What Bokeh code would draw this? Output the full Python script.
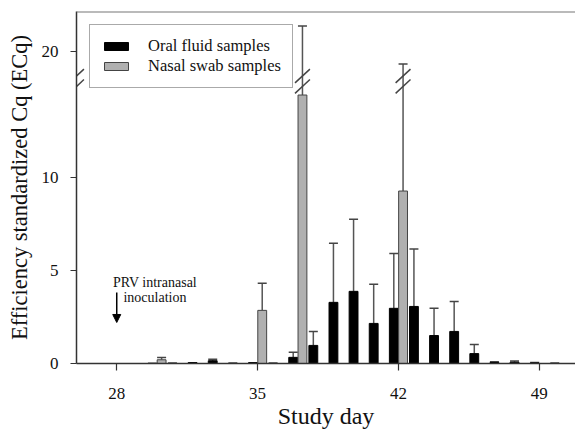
from bokeh.plotting import figure
from bokeh.models import (ColumnDataSource, Whisker, TeeHead, FixedTicker,
                          CustomJSTickFormatter, Span, Arrow, NormalHead,
                          Range1d, Legend, LegendItem)
from bokeh.core.properties import value
from bokeh.embed import file_html
from bokeh.resources import INLINE

# ---------------- data ----------------
days = list(range(28, 51))
oral = [0, 0, 0.02, 0.03, 0.05, 0.15, 0.03, 0.05, 0.03, 0.33, 0.97, 3.28, 3.87,
        2.15, 2.96, 3.06, 1.50, 1.72, 0.53, 0.05, 0.07, 0.03, 0.03]
oral_err = [0, 0, 0, 0, 0, 0.08, 0, 0, 0, 0.28, 0.75, 3.17, 3.87,
            2.10, 2.94, 3.08, 1.46, 1.61, 0.49, 0.05, 0.07, 0.03, 0]
nasal = [0, 0, 0.20, 0, 0, 0, 0, 2.85, 0, 14.4, 0, 0, 0,
         0, 9.25, 0, 0, 0, 0, 0, 0, 0, 0]
nasal_err = [0, 0, 0.12, 0, 0, 0, 0, 1.45, 0, 7.9, 0, 0, 0,
             0, 9.65, 0, 0, 0, 0, 0, 0, 0, 0]
x_ticks = [28, 35, 42, 49]
y_ticks = [0, 5, 10, 20]
series_names = ["Oral fluid samples", "Nasal swab samples"]

# ---------------- broken y axis mapping ----------------
LOWER_MAX = 15.0        # values up to here are drawn linearly
UPPER_REF = 20.0        # reference value in the upper segment
UPPER_REF_POS = 16.72   # display position of UPPER_REF
UPPER_SCALE = 0.6       # compression of the upper segment


def disp(v):
    return v if v <= LOWER_MAX else UPPER_REF_POS + (v - UPPER_REF) * UPPER_SCALE


OFF = 0.23
W = 0.44
SERIF = "Liberation Serif"
X_START, X_END = 26.0, 50.8
Y_TOP = 18.88

src = ColumnDataSource(dict(
    xo=[d - OFF for d in days], xn=[d + OFF for d in days],
    oral=[disp(v) for v in oral], nasal=[disp(v) for v in nasal]))

eo = [(d - OFF, v, disp(v + e)) for d, v, e in zip(days, oral, oral_err) if e > 0]
en = [(d + OFF, v, disp(v + e)) for d, v, e in zip(days, nasal, nasal_err) if e > 0]
err_src = ColumnDataSource(dict(
    x=[a[0] for a in eo + en], lo=[a[1] for a in eo + en], hi=[a[2] for a in eo + en]))

p = figure(width=575, height=433, x_range=Range1d(X_START, X_END), y_range=Range1d(0, Y_TOP),
           output_backend="svg", toolbar_location=None,
           min_border_left=76, min_border_right=0, min_border_top=11, min_border_bottom=70)
p.outline_line_color = None
p.grid.visible = False
p.background_fill_color = "white"

r_o = p.vbar(x="xo", top="oral", bottom=0, width=W, source=src,
             fill_color="black", line_color="black", line_width=1)
r_n = p.vbar(x="xn", top="nasal", bottom=0, width=W, source=src,
             fill_color="#b0b0b0", line_color="#444444", line_width=1)

wh = Whisker(base="x", lower="lo", upper="hi", source=err_src, dimension="height",
             line_color="#555555", line_width=1.5,
             upper_head=TeeHead(size=9, line_color="#444444", line_width=1.5),
             lower_head=None)
p.add_layout(wh)

# break marks on the axis and on the error bars that cross the break
brk_x = [X_START] + [d + OFF for d, v, e in zip(days, nasal, nasal_err) if v + e > LOWER_MAX]
for cx in brk_x:
    for cy in (15.42, 14.86):
        p.segment(x0=[cx - 0.37], y0=[cy - 0.37], x1=[cx + 0.37], y1=[cy + 0.37],
                  line_color="#444444", line_width=1.5)

p.add_layout(Span(location=Y_TOP, dimension="width", line_color="#777777", line_width=2))

# axes
p.xaxis.ticker = FixedTicker(ticks=x_ticks)
p.xaxis.minor_tick_line_color = None
p.xaxis.major_tick_in = 0
p.xaxis.major_tick_out = 7
p.xaxis.major_label_standoff = 17
p.xaxis.axis_label = "Study day"
p.xaxis.axis_label_standoff = 1

ytick_pos = [disp(v) for v in y_ticks]
p.yaxis.ticker = FixedTicker(ticks=ytick_pos)
p.yaxis.formatter = CustomJSTickFormatter(
    args=dict(pos=ytick_pos, labs=[str(v) for v in y_ticks]),
    code="""
let best = 0;
for (let i = 0; i < pos.length; i++) {
  if (Math.abs(pos[i] - tick) < Math.abs(pos[best] - tick)) best = i;
}
return labs[best];
""")
p.yaxis.minor_tick_line_color = None
p.yaxis.major_tick_in = 0
p.yaxis.major_tick_out = 6
p.yaxis.major_label_standoff = 12
p.yaxis.axis_label = "Efficiency standardized Cq (ECq)"
p.yaxis.axis_label_standoff = 7

for ax in (p.xaxis, p.yaxis):
    ax.axis_line_color = "#333333"
    ax.axis_line_width = 1.5
    ax.major_tick_line_color = "#333333"
    ax.major_tick_line_width = 1.2
    ax.major_label_text_font = SERIF
    ax.major_label_text_font_size = "17px"
    ax.major_label_text_color = "#111111"
    ax.axis_label_text_font = SERIF
    ax.axis_label_text_font_style = "normal"
    ax.axis_label_text_color = "#111111"
p.xaxis.axis_label_text_font_size = "24px"
p.yaxis.axis_label_text_font_size = "22.5px"

# annotation
p.add_layout(Arrow(end=NormalHead(size=8, fill_color="black", line_color="black"),
                   x_start=28, y_start=3.81, x_end=28, y_end=2.2,
                   line_color="black", line_width=1.5))
p.text(x=[29.9, 29.9], y=[4.35, 3.55], text=["PRV intranasal", "inoculation"],
       text_align="center", text_baseline="middle",
       text_font=value(SERIF), text_font_size="14px", text_color="#111111")

legend = Legend(items=[LegendItem(label=series_names[0], renderers=[r_o]),
                       LegendItem(label=series_names[1], renderers=[r_n])],
                location="top_left", margin=13, padding=11, spacing=0,
                glyph_width=30, glyph_height=10, label_standoff=17, label_height=18,
                label_text_font=SERIF, label_text_font_size="16.5px",
                label_text_font_style="normal",
                label_text_color="#111111",
                border_line_color="#555555", border_line_width=1.5,
                background_fill_color="white", background_fill_alpha=1)
p.add_layout(legend)

open("out.html", "w").write(file_html(p, INLINE))
